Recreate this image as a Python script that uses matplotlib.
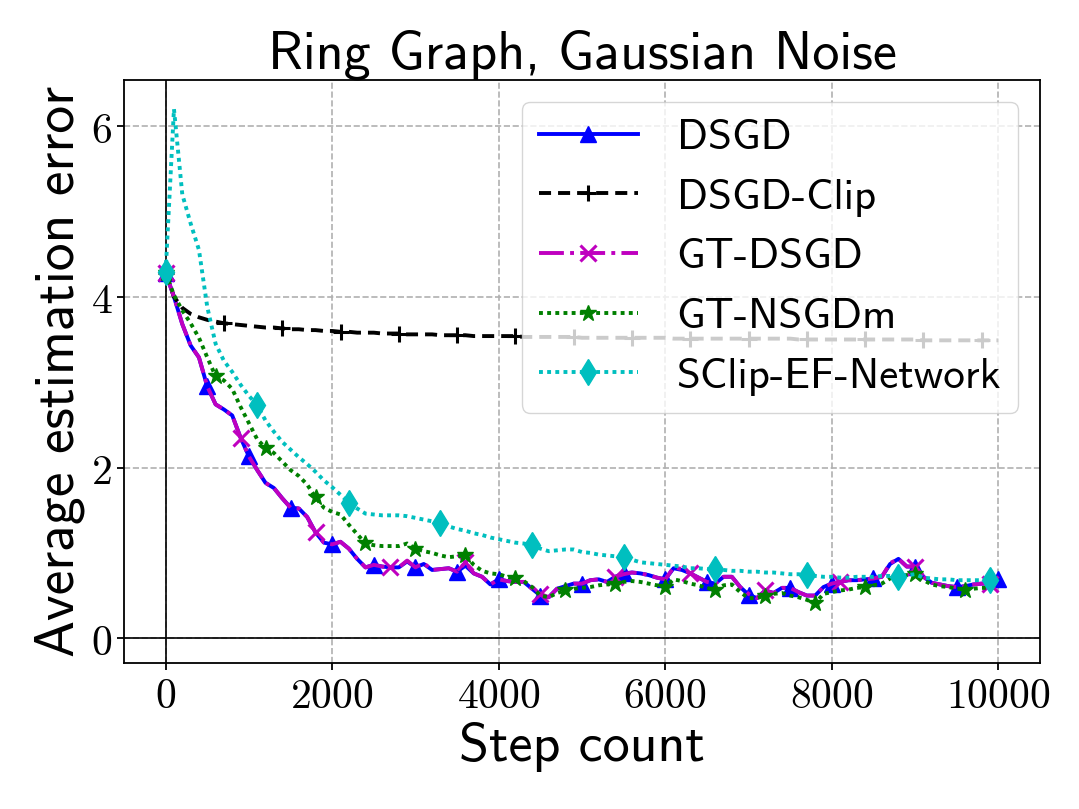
import matplotlib
matplotlib.use('Agg')
import matplotlib.pyplot as plt
import numpy as np
from matplotlib.ticker import FuncFormatter

plt.rcParams['mathtext.fontset'] = 'cm'

# step grid (one value every 100 steps)
steps = np.arange(0, 10001, 100)

dsgd = [4.28, 4.00, 3.68, 3.43, 3.29, 2.95, 2.74, 2.68, 2.61, 2.35,
        2.13, 1.97, 1.82, 1.76, 1.64, 1.53, 1.52, 1.42, 1.24, 1.12,
        1.10, 1.13, 1.05, 0.93, 0.83, 0.86, 0.84, 0.83, 0.83, 0.90,
        0.83, 0.87, 0.80, 0.81, 0.82, 0.78, 0.85, 0.76, 0.72, 0.63,
        0.69, 0.67, 0.66, 0.66, 0.58, 0.50, 0.48, 0.58, 0.61, 0.64,
        0.64, 0.68, 0.69, 0.66, 0.72, 0.76, 0.77, 0.76, 0.74, 0.71,
        0.69, 0.82, 0.80, 0.76, 0.71, 0.66, 0.64, 0.72, 0.72, 0.60,
        0.51, 0.47, 0.56, 0.53, 0.59, 0.59, 0.54, 0.50, 0.50, 0.60,
        0.64, 0.66, 0.68, 0.68, 0.69, 0.70, 0.72, 0.87, 0.93, 0.84,
        0.84, 0.72, 0.65, 0.63, 0.61, 0.60, 0.61, 0.63, 0.64, 0.64,
        0.69]

dsgd_clip = [4.28, 4.00, 3.87, 3.80, 3.76, 3.73, 3.71, 3.69, 3.68, 3.67,
             3.66, 3.65, 3.64, 3.64, 3.63, 3.62, 3.62, 3.61, 3.61, 3.60,
             3.60, 3.59, 3.59, 3.58, 3.58, 3.58, 3.57, 3.57, 3.57, 3.56,
             3.56, 3.56, 3.56, 3.55, 3.55, 3.55, 3.55, 3.54, 3.54, 3.54,
             3.54, 3.54, 3.54, 3.53, 3.53, 3.53, 3.53, 3.53, 3.53, 3.53,
             3.52, 3.52, 3.52, 3.52, 3.52, 3.52, 3.52, 3.52, 3.52, 3.52,
             3.52, 3.51, 3.51, 3.51, 3.51, 3.51, 3.51, 3.51, 3.51, 3.51,
             3.51, 3.51, 3.51, 3.51, 3.51, 3.51, 3.50, 3.50, 3.50, 3.50,
             3.50, 3.50, 3.50, 3.50, 3.50, 3.50, 3.50, 3.50, 3.50, 3.50,
             3.50, 3.49, 3.49, 3.49, 3.49, 3.49, 3.49, 3.49, 3.49, 3.49,
             3.49]

gt_dsgd = [4.28, 4.00, 3.68, 3.43, 3.29, 2.95, 2.74, 2.68, 2.61, 2.35,
           2.13, 1.97, 1.82, 1.76, 1.64, 1.53, 1.52, 1.42, 1.24, 1.12,
           1.10, 1.13, 1.05, 0.93, 0.83, 0.86, 0.84, 0.83, 0.83, 0.91,
           0.83, 0.88, 0.80, 0.81, 0.82, 0.78, 0.89, 0.76, 0.72, 0.63,
           0.69, 0.67, 0.66, 0.66, 0.58, 0.52, 0.48, 0.58, 0.61, 0.64,
           0.64, 0.68, 0.69, 0.66, 0.72, 0.75, 0.77, 0.76, 0.74, 0.71,
           0.69, 0.83, 0.81, 0.76, 0.71, 0.66, 0.64, 0.72, 0.72, 0.60,
           0.52, 0.47, 0.56, 0.53, 0.59, 0.59, 0.54, 0.50, 0.50, 0.60,
           0.64, 0.66, 0.68, 0.68, 0.69, 0.70, 0.72, 0.88, 0.93, 0.84,
           0.84, 0.72, 0.65, 0.63, 0.61, 0.60, 0.61, 0.63, 0.64, 0.64,
           0.66]

gt_nsgdm = [4.28, 4.02, 3.84, 3.69, 3.52, 3.29, 3.07, 3.02, 2.92, 2.71,
            2.52, 2.33, 2.23, 2.17, 2.07, 1.97, 1.90, 1.80, 1.65, 1.53,
            1.48, 1.45, 1.33, 1.22, 1.11, 1.09, 1.08, 1.08, 1.08, 1.11,
            1.05, 1.02, 1.00, 0.97, 0.95, 0.96, 0.97, 0.86, 0.79, 0.76,
            0.75, 0.72, 0.70, 0.67, 0.60, 0.50, 0.48, 0.53, 0.56, 0.58,
            0.59, 0.60, 0.62, 0.63, 0.64, 0.66, 0.67, 0.66, 0.64, 0.62,
            0.60, 0.69, 0.67, 0.64, 0.62, 0.59, 0.56, 0.62, 0.63, 0.54,
            0.47, 0.47, 0.50, 0.52, 0.53, 0.50, 0.48, 0.45, 0.41, 0.52,
            0.54, 0.56, 0.57, 0.59, 0.60, 0.62, 0.64, 0.70, 0.73, 0.74,
            0.75, 0.68, 0.63, 0.61, 0.60, 0.58, 0.57, 0.58, 0.59, 0.59,
            0.60]

sclip_ef = [4.29, 6.20, 5.20, 4.86, 4.55, 3.88, 3.45, 3.25, 3.12, 2.97,
            2.84, 2.73, 2.55, 2.42, 2.30, 2.21, 2.12, 2.04, 1.95, 1.85,
            1.77, 1.68, 1.59, 1.52, 1.46, 1.45, 1.44, 1.44, 1.44, 1.43,
            1.41, 1.39, 1.37, 1.35, 1.31, 1.28, 1.26, 1.23, 1.21, 1.18,
            1.16, 1.14, 1.12, 1.11, 1.09, 1.05, 1.02, 1.03, 1.04, 1.04,
            1.01, 1.00, 0.98, 0.97, 0.96, 0.95, 0.92, 0.89, 0.88, 0.87,
            0.86, 0.85, 0.84, 0.82, 0.82, 0.81, 0.81, 0.80, 0.79, 0.79,
            0.78, 0.78, 0.77, 0.77, 0.76, 0.75, 0.75, 0.74, 0.73, 0.72,
            0.72, 0.71, 0.71, 0.72, 0.72, 0.72, 0.73, 0.73, 0.72, 0.74,
            0.75, 0.71, 0.70, 0.69, 0.69, 0.68, 0.68, 0.68, 0.68, 0.68,
            0.68]

xticks = [0, 2000, 4000, 6000, 8000, 10000]
yticks = [0, 2, 4, 6]

sans = 'cmss10'
dotted = (0, (1, 1.1))
dashed = (0, (3.1, 1.8))

fig = plt.figure(figsize=(10.79, 8.09), dpi=100)
ax = fig.add_axes([124 / 1079, 1 - 663 / 809, (1040 - 124) / 1079, (663 - 80) / 809])

ax.grid(True, linestyle='--', linewidth=1.2, color='#b0b0b0')

# black reference lines through the origin, drawn over the grid
ax.axhline(0, color='k', lw=1.2, zorder=2)
ax.axvline(0, color='k', lw=1.2, zorder=2)

ax.plot(steps, dsgd, color='b', ls='-', marker='^', lw=2.8, ms=12,
        markevery=5, label='DSGD')
ax.plot(steps, dsgd_clip, color='k', ls=dashed, marker='+', lw=2.8, ms=12,
        mew=2.2, markevery=7, label='DSGD-Clip')
ax.plot(steps, gt_dsgd, color='m', ls='-.', marker='x', lw=2.8, ms=11,
        mew=2.2, markevery=9, label='GT-DSGD')
ax.plot(steps, gt_nsgdm, color='g', ls=dotted, marker='*', lw=2.8, ms=12,
        markevery=6, label='GT-NSGDm')
ax.plot(steps, sclip_ef, color='c', ls=dotted, marker='d', lw=2.8, ms=13,
        markevery=11, label='SClip-EF-Network')

ax.set_xlim(-500, 10500)
ax.set_ylim(-0.29, 6.54)
ax.set_xticks(xticks)
ax.set_yticks(yticks)
ax.xaxis.set_major_formatter(FuncFormatter(lambda v, p: '$%d$' % v))
ax.yaxis.set_major_formatter(FuncFormatter(lambda v, p: '$%d$' % v))
ax.tick_params(labelsize=30, width=1.3, length=5)
for s in ax.spines.values():
    s.set_linewidth(1.3)

ax.set_title('Ring Graph, Gaussian Noise', fontsize=39, family=sans)
ax.set_xlabel('Step count', fontsize=39, family=sans)
ax.set_ylabel('Average estimation error', fontsize=40, family=sans)

ax.legend(loc='upper right', prop={'family': sans, 'size': 31},
          handlelength=2.3, handletextpad=0.9)

fig.savefig('out.png', dpi=100)
